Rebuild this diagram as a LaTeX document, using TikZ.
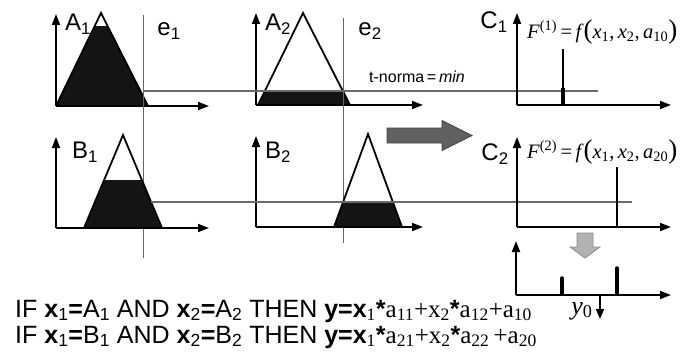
\documentclass[tikz,border=0pt]{standalone}
\usepackage{fontspec}
\setmainfont{Liberation Serif}
\setsansfont{Liberation Sans}
\usetikzlibrary{arrows.meta}
\newcommand{\bigpar}[1]{{\fontsize{27}{27}\selectfont #1}}
\newcommand{\Fml}[1]{\textit{F}\textsuperscript{(#1)}\,=\,\textit{f}\bigpar{(}\textit{x}\textsubscript{1},\,\textit{x}\textsubscript{2},\,\textit{a}\textsubscript{#10}\bigpar{)}}
\begin{document}
\begin{tikzpicture}[x=1pt,y=-1pt,
  axis/.style={line width=1.8pt,-{Triangle[length=11pt,width=8pt]}},
  tri/.style={draw=black,line width=1.8pt,line join=miter},
  darkfill/.style={fill=black!92},
  cut/.style={draw=black!58,line width=1.4pt},
  evline/.style={draw=black!60,line width=0.9pt},
  lab/.style={font=\sffamily\fontsize{24}{24}\selectfont,inner sep=0pt},
  spike/.style={line width=2pt},
  fml/.style={font=\rmfamily\fontsize{20.5}{20.5}\selectfont,inner sep=0pt},
  rule/.style={font=\fontsize{25}{25}\selectfont,inner sep=0pt,anchor=base west}]
\useasboundingbox[fill=white] (0,0) rectangle (688,353);

% ---------- A1 ----------
\coordinate (oA1) at (56,106);
\begin{scope}
  \clip (0,27) rectangle (200,106);
  \fill[darkfill] (56,106) -- (101,13) -- (148,106) -- cycle;
\end{scope}
\draw[tri] (56,106) -- (101,13) -- (148,106);
\draw[axis] (oA1) -- (56,14);
\draw[axis] (oA1) -- (209,106);
\node[lab] (lA1) at (78,24) {A\textsubscript{1}};
\coordinate (e1t) at (143,15);
\coordinate (e1b) at (143,258);
\draw[evline] (e1t) -- (e1b);
\node[lab] (le1) at (169,31) {e\textsubscript{1}};

% ---------- A2 ----------
\coordinate (oA2) at (256,105);
\begin{scope}
  \clip (200,91) rectangle (420,105);
  \fill[darkfill] (258,105) -- (303,13) -- (350,105) -- cycle;
\end{scope}
\draw[tri] (258,105) -- (303,13) -- (350,105);
\draw[axis] (oA2) -- (256,13);
\draw[axis] (oA2) -- (423,105);
\node[lab] (lA2) at (278,24) {A\textsubscript{2}};
\coordinate (e2t) at (343,18);
\coordinate (e2b) at (343,243);
\draw[evline] (e2t) -- (e2b);
\node[lab] (le2) at (370,31) {e\textsubscript{2}};

% t-norm line (row 1)
\coordinate (c1s) at (143,91);
\coordinate (c1e) at (598,91);
\draw[cut] (c1s) -- (c1e);
\node[font=\sffamily\fontsize{16}{16}\selectfont,inner sep=0pt,anchor=base west] (tn) at (369,82) {t-norma\,=\,\textit{min}};

% ---------- C1 ----------
\coordinate (oC1) at (517,105);
\draw[axis] (oC1) -- (517,13);
\draw[axis] (oC1) -- (671,105);
\draw[spike] (563,49) -- (563,105);
\draw[line width=4pt] (563,88) -- (563,104);
\node[lab] (lC1) at (494,22) {C\textsubscript{1}};
\node[fml,anchor=west] (f1) at (527,32) {\Fml{1}};

% ---------- B1 ----------
\coordinate (oB1) at (56,228);
\begin{scope}
  \clip (0,180) rectangle (200,228);
  \fill[darkfill] (84,228) -- (123,135) -- (162,228) -- cycle;
\end{scope}
\draw[tri] (84,228) -- (123,135) -- (162,228);
\draw[axis] (oB1) -- (56,137);
\draw[axis] (oB1) -- (209,228);
\node[lab] (lB1) at (85,152) {B\textsubscript{1}};

% ---------- B2 ----------
\coordinate (oB2) at (256,227);
\begin{scope}
  \clip (200,202) rectangle (420,227);
  \fill[darkfill] (334,227) -- (368,134) -- (402,227) -- cycle;
\end{scope}
\draw[tri] (334,227) -- (368,134) -- (402,227);
\draw[axis] (oB2) -- (256,136);
\draw[axis] (oB2) -- (423,227);
\node[lab] (lB2) at (278,152) {B\textsubscript{2}};

% t-norm line (row 2)
\coordinate (c2s) at (151,202);
\coordinate (c2e) at (632,202);
\draw[cut] (c2s) -- (c2e);

% ---------- C2 ----------
\coordinate (oC2) at (517,227);
\draw[axis] (oC2) -- (517,137);
\draw[axis] (oC2) -- (671,227);
\draw[spike] (617,167) -- (617,227);
\node[lab] (lC2) at (495,154) {C\textsubscript{2}};
\node[fml,anchor=west] (f2) at (527,152) {\Fml{2}};

% big dark arrow
\draw[fill=black!62,draw=black!75,line width=0.8pt]
  (387,128) -- (442,128) -- (442,120.5) -- (472,135.5) -- (442,150.5) -- (442,143) -- (387,143) -- cycle;

% light down arrow
\draw[fill=black!30,draw=black!45,line width=0.8pt]
  (577,233) -- (593,233) -- (593,247) -- (600,247) -- (585,258) -- (570,247) -- (577,247) -- cycle;

% ---------- result ----------
\coordinate (oR) at (516,295);
\draw[axis] (oR) -- (516,241);
\draw[axis] (oR) -- (671,295);
\draw[line width=3.5pt,line cap=round] (562,278) -- (562,294);
\draw[line width=3.5pt,line cap=round] (617,268) -- (617,294);
\coordinate (y0a) at (600,295);
\coordinate (y0b) at (600,319);
\draw[line width=1.8pt,-{Triangle[length=10pt,width=8pt]}] (y0a) -- (y0b);
\node[font=\rmfamily\fontsize{26}{26}\selectfont,inner sep=0pt] (y0) at (582,311) {\textit{y}\textsubscript{0}};

% ---------- rules ----------
\node[rule] (r1) at (15,317) {\sffamily IF \textbf{x}\textsubscript{1}\textbf{=}A\textsubscript{1} AND \textbf{x}\textsubscript{2}\textbf{=}A\textsubscript{2} THEN \textbf{y=x}{\rmfamily\textsubscript{1}}\textbf{*}{\rmfamily a\textsubscript{11}+x\textsubscript{2}}\textbf{*}{\rmfamily a\textsubscript{12}+a\textsubscript{10}}};
\node[rule] (r2) at (15,343) {\sffamily IF \textbf{x}\textsubscript{1}\textbf{=}B\textsubscript{1} AND \textbf{x}\textsubscript{2}\textbf{=}B\textsubscript{2} THEN \textbf{y=x}{\rmfamily\textsubscript{1}}\textbf{*}{\rmfamily a\textsubscript{21}+x\textsubscript{2}}\textbf{*}{\rmfamily a\textsubscript{22}\,+a\textsubscript{20}}};
\end{tikzpicture}
\end{document}
